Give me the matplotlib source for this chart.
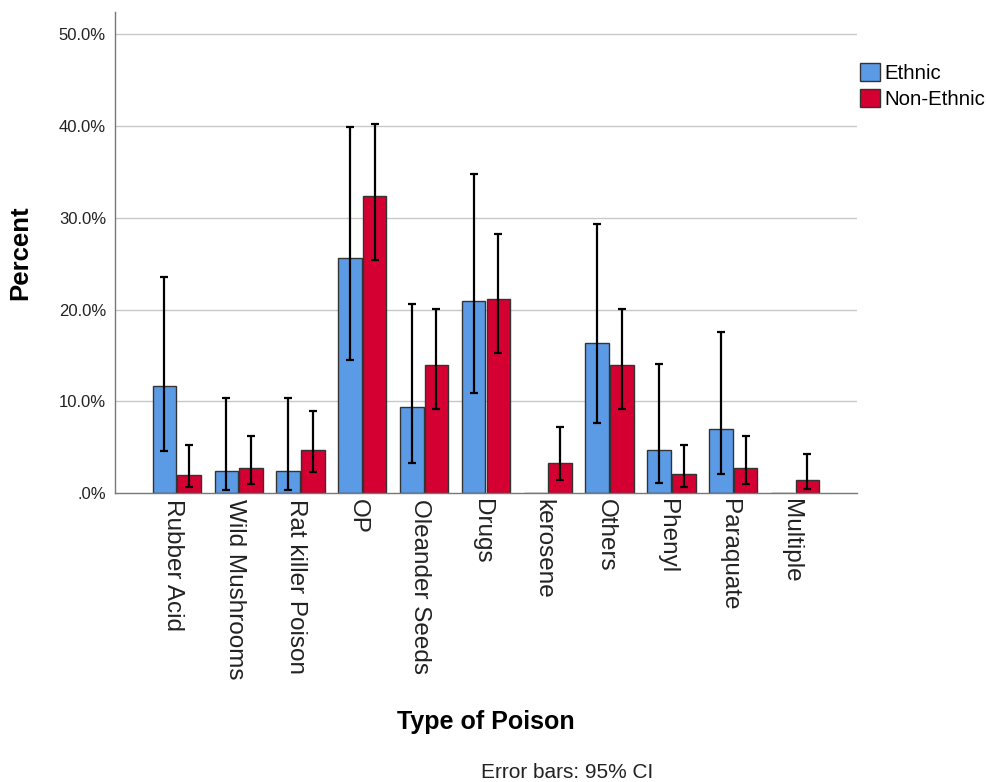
import numpy as np
import matplotlib
matplotlib.use("Agg")
import matplotlib.pyplot as plt
import matplotlib.transforms as mtransforms

plt.rcParams['font.family'] = ['Liberation Sans', 'DejaVu Sans']

categories = ["Rubber Acid", "Wild Mushrooms", "Rat killer Poison", "OP",
              "Oleander Seeds", "Drugs", "kerosene", "Others", "Phenyl",
              "Paraquate", "Multiple"]

# percent, with 95% CI low/high
ethnic = [11.7, 2.4, 2.4, 25.6, 9.4, 20.9, 0.0, 16.4, 4.7, 7.0, 0.0]
ethnic_lo = [4.6, 0.3, 0.3, 14.5, 3.3, 10.9, np.nan, 7.6, 1.1, 2.1, np.nan]
ethnic_hi = [23.6, 10.4, 10.4, 39.9, 20.6, 34.8, np.nan, 29.3, 14.1, 17.5, np.nan]

non_ethnic = [2.0, 2.7, 4.7, 32.4, 13.9, 21.2, 3.3, 13.9, 2.1, 2.7, 1.4]
non_ethnic_lo = [0.6, 1.0, 2.3, 25.4, 9.2, 15.3, 1.4, 9.2, 0.6, 1.0, 0.4]
non_ethnic_hi = [5.2, 6.2, 8.9, 40.2, 20.1, 28.2, 7.2, 20.1, 5.2, 6.2, 4.2]

yticks = [0, 10, 20, 30, 40, 50]
ytick_labels = [".0%", "10.0%", "20.0%", "30.0%", "40.0%", "50.0%"]

blue = "#5B9BE6"
red = "#D50032"

fig = plt.figure(figsize=(9.87, 7.82), dpi=100)
ax = fig.add_axes([0.1165, 0.3696, 0.7517, 0.6151])

x = np.arange(len(categories))
w = 0.38
off = 0.2

e = np.array(ethnic)
n = np.array(non_ethnic)
e_err = np.array([e - np.array(ethnic_lo), np.array(ethnic_hi) - e])
n_err = np.array([n - np.array(non_ethnic_lo), np.array(non_ethnic_hi) - n])

ax.bar(x - off, e, width=w, color=blue, edgecolor="#333333", linewidth=1.0,
       label="Ethnic", zorder=2)
ax.bar(x + off, n, width=w, color=red, edgecolor="#333333", linewidth=1.0,
       label="Non-Ethnic", zorder=2)

ok = ~np.isnan(np.array(ethnic_lo))
ax.errorbar((x - off)[ok], e[ok], yerr=e_err[:, ok], fmt="none", ecolor="black",
            elinewidth=1.6, capsize=2.8, capthick=1.6, zorder=3)
ax.errorbar(x + off, n, yerr=n_err, fmt="none", ecolor="black",
            elinewidth=1.6, capsize=2.8, capthick=1.6, zorder=3)

ax.set_xlim(-1.0, len(categories))
ax.set_ylim(0, 52.45)
ax.set_yticks(yticks)
ax.set_yticklabels(ytick_labels, fontsize=12, color="#222222")
ax.set_xticks(x)
ax.set_xticklabels(categories, rotation=-90, fontsize=17.5, ha="center", va="top",
                   color="#222222")
ax.tick_params(axis="both", length=0)
ax.tick_params(axis="y", pad=6.5)
ax.tick_params(axis="x", pad=4.5)

# nudge the rotated category labels a little left, like the original
shift = mtransforms.ScaledTranslation(-4 / 100, 0, fig.dpi_scale_trans)
for lab in ax.get_xticklabels():
    lab.set_transform(lab.get_transform() + shift)

for t in yticks[1:]:
    ax.axhline(t, color="#C8C8C8", linewidth=1.0, zorder=1)

for s in ["top", "right"]:
    ax.spines[s].set_visible(False)
for s in ["left", "bottom"]:
    ax.spines[s].set_color("#777777")
    ax.spines[s].set_linewidth(1.0)

ax.set_ylabel("Percent", fontsize=18.5, fontweight="bold")
ax.yaxis.set_label_coords(-0.112, 0.5)
ax.set_xlabel("Type of Poison", fontsize=18, fontweight="bold")
ax.xaxis.set_label_coords(0.5, -0.451)

fig.text(0.575, 0.005, "Error bars: 95% CI", fontsize=15, ha="center",
         va="baseline", color="#222222")

fig.legend(loc="upper left", bbox_to_anchor=(0.871, 0.920), frameon=False,
           fontsize=14.7, handlelength=0.98, handleheight=0.98, handletextpad=0.25,
           labelspacing=0.3, borderpad=0, borderaxespad=0)

fig.savefig("out.png", dpi=100)
